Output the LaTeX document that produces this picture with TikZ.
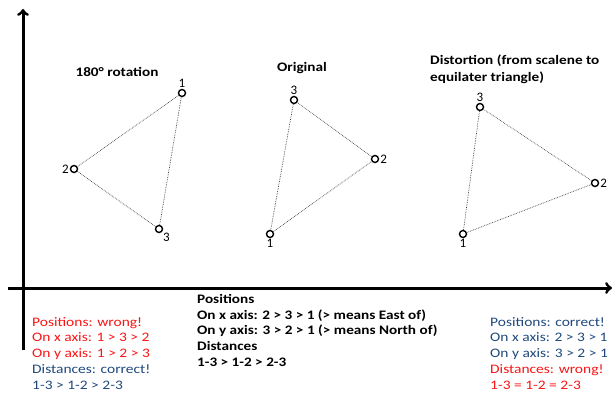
\documentclass[tikz,border=0pt]{standalone}
\usepackage{fontspec}
\setmainfont{Carlito}
\newfontfamily\notefont[FakeStretch=1.19]{Carlito}
\newfontfamily\midfont[FakeStretch=1.17]{Carlito}
\newfontfamily\ttlfont[FakeStretch=1.17]{Carlito}
\definecolor{wrongred}{RGB}{250,20,20}
\definecolor{rightblue}{RGB}{31,73,125}
\tikzset{
 vtx/.style={circle,draw,line width=1.4pt,inner sep=0pt,minimum size=7pt,fill=white},
 side/.style={densely dotted,line width=0.7pt,black!75},
 axis/.style={line width=3pt,->},
 num/.style={font=\fontsize{13}{13}\selectfont,inner sep=1pt},
 ttl/.style={font=\ttlfont\bfseries\fontsize{13}{17}\selectfont,align=left},
 note/.style={align=left,anchor=north west,inner sep=0pt,font=\notefont\fontsize{13}{15.8}\selectfont}
}
\begin{document}
\begin{tikzpicture}[x=1pt,y=-1pt]
 \useasboundingbox (0,0) rectangle (613,396);
 % axes
 \coordinate (ybot) at (23,350); \coordinate (ytop) at (23,9);
 \coordinate (xleft) at (8,288); \coordinate (xright) at (612,288);
 \draw[axis] (ybot)--(ytop);
 \draw[axis] (xleft)--(xright);
 % 180 degree rotation
 \node[ttl] (rottitle) at (117,72) {180° rotation};
 \node[vtx,label={[num]above:1}] (r1) at (182,93) {};
 \node[vtx,label={[num]left:2}] (r2) at (74,169) {};
 \node[vtx,label={[num]below right=-2pt:3}] (r3) at (159,229) {};
 \draw[side] (r1)--(r2)--(r3)--(r1);
 % original
 \node[ttl] (origtitle) at (302,68) {Original};
 \node[vtx,label={[num]above=-1pt:3}] (o3) at (294,100) {};
 \node[vtx,label={[num]right=-1pt:2}] (o2) at (375,159) {};
 \node[vtx,label={[num]below=-1pt:1}] (o1) at (270,234) {};
 \draw[side] (o1)--(o2)--(o3)--(o1);
 % distortion
 \node[ttl,anchor=north west,inner sep=0pt] (disttitle) at (430,55) {Distortion (from scalene to\\equilater triangle)};
 \node[vtx,label={[num]above=-1pt:3}] (d3) at (480,107) {};
 \node[vtx,label={[num]right=-1pt:2}] (d2) at (595,183) {};
 \node[vtx,label={[num]below=-1pt:1}] (d1) at (463,234) {};
 \draw[side] (d1)--(d2)--(d3)--(d1);
 % notes
 \node[note] (leftnote) at (32,317) {\color{wrongred}Positions: wrong!\\\color{wrongred}On x axis: 1 > 3 > 2\\\color{wrongred}On y axis: 1 > 2 > 3\\\color{rightblue}Distances: correct!\\\color{rightblue}1-3 > 1-2 > 2-3};
 \node[note,font=\midfont\bfseries\fontsize{13}{15.7}\selectfont] (midnote) at (197,294) {Positions\\On x axis: 2 > 3 > 1 (> means East of)\\On y axis: 3 > 2 > 1 (> means North of)\\Distances\\1-3 > 1-2 > 2-3};
 \node[note] (rightnote) at (490,317) {\color{rightblue}Positions: correct!\\\color{rightblue}On x axis: 2 > 3 > 1\\\color{rightblue}On y axis: 3 > 2 > 1\\\color{wrongred}Distances: wrong!\\\color{wrongred}1-3 = 1-2 = 2-3};
\end{tikzpicture}
\end{document}
